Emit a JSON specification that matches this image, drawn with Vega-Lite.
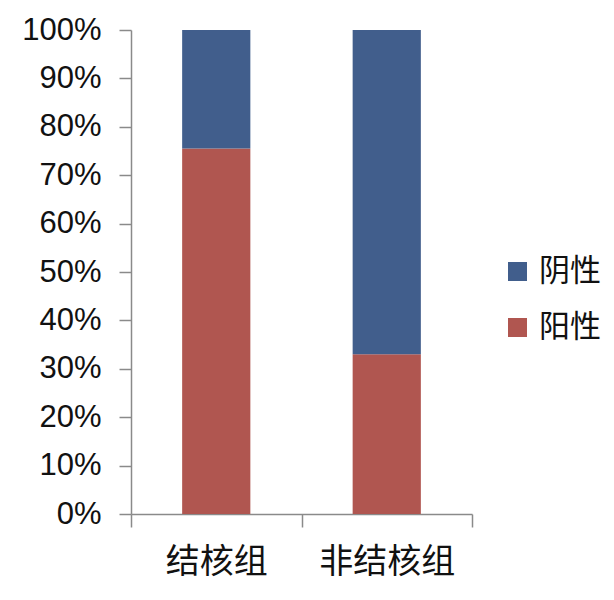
{
  "$schema": "https://vega.github.io/schema/vega-lite/v6.json",
  "width": 341,
  "height": 484,
  "autosize": "none",
  "padding": {"left": 131, "top": 30, "right": 142, "bottom": 86},
  "background": "white",
  "data": {
    "values": [
      {"group": "结核组", "result": "阳性", "share": 0.755, "ord": 1},
      {"group": "结核组", "result": "阴性", "share": 0.245, "ord": 2},
      {"group": "非结核组", "result": "阳性", "share": 0.33, "ord": 1},
      {"group": "非结核组", "result": "阴性", "share": 0.67, "ord": 2}
    ]
  },
  "mark": {"type": "bar", "width": {"band": 0.4}},
  "encoding": {
    "x": {
      "field": "group",
      "type": "nominal",
      "sort": ["结核组", "非结核组"],
      "scale": {"paddingInner": 0, "paddingOuter": 0},
      "axis": {
        "title": null,
        "labelAngle": 0,
        "labelFont": "Noto Sans CJK SC",
        "labelFontSize": 34,
        "labelColor": "#111111",
        "labelPadding": 18,
        "tickBand": "extent",
        "tickSize": 13,
        "tickColor": "#8a8a8a",
        "domainColor": "#8a8a8a",
        "tickWidth": 1.5,
        "domainWidth": 1.5
      }
    },
    "y": {
      "field": "share",
      "type": "quantitative",
      "stack": "zero",
      "scale": {"domain": [0, 1]},
      "axis": {
        "title": null,
        "format": ".0%",
        "values": [0, 0.1, 0.2, 0.3, 0.4, 0.5, 0.6, 0.7, 0.8, 0.9, 1],
        "grid": false,
        "labelFont": "Liberation Sans",
        "labelFontSize": 31,
        "labelColor": "#111111",
        "labelPadding": 18,
        "tickSize": 12,
        "tickColor": "#8a8a8a",
        "domainColor": "#8a8a8a",
        "tickWidth": 1.5,
        "domainWidth": 1.5
      }
    },
    "color": {
      "field": "result",
      "type": "nominal",
      "scale": {"domain": ["阴性", "阳性"], "range": ["#415E8C", "#B05650"]},
      "legend": {
        "title": null,
        "orient": "none",
        "legendX": 371,
        "legendY": 226,
        "padding": 0,
        "symbolType": "square",
        "symbolSize": 361,
        "symbolStrokeWidth": 0,
        "symbolOpacity": 1,
        "labelFont": "Noto Sans CJK SC",
        "labelFontSize": 31,
        "labelColor": "#111111",
        "labelOffset": 6,
        "rowPadding": 24
      }
    },
    "order": {"field": "ord", "type": "quantitative"}
  },
  "config": {"view": {"stroke": null}}
}
